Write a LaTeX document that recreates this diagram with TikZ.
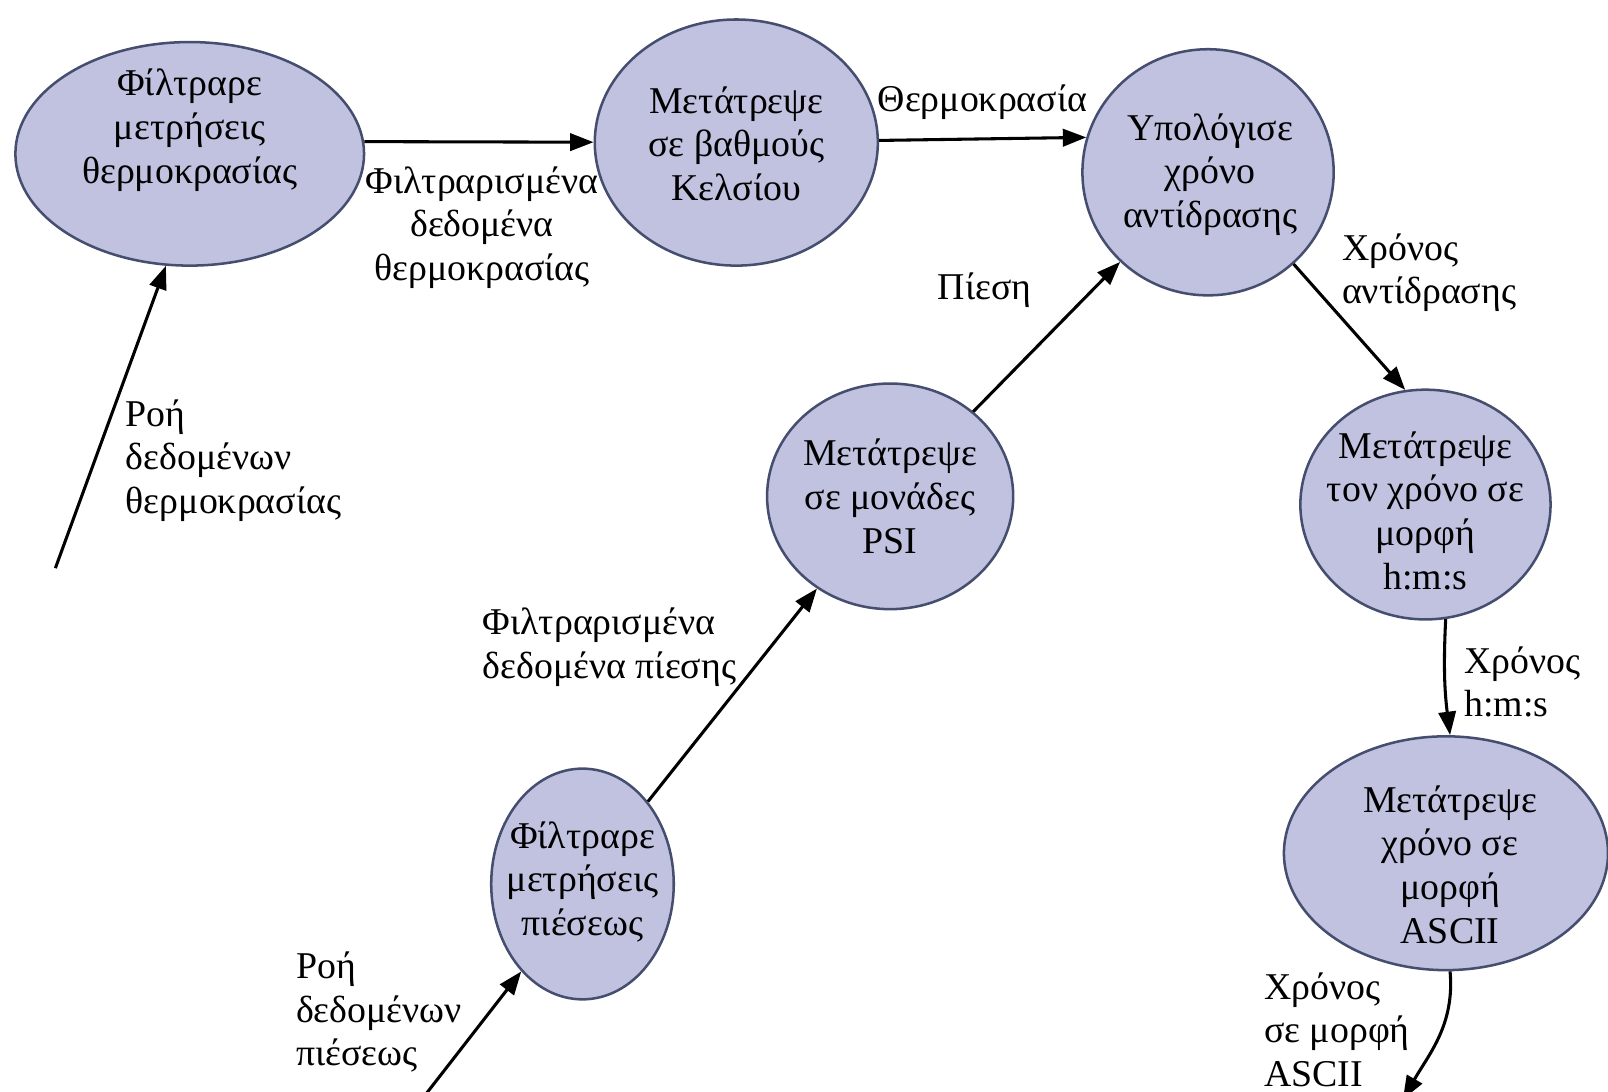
\documentclass[tikz,border=0pt]{standalone}
\usepackage{fontspec}
\setmainfont{Liberation Serif}
\usepackage{tikz}
\usetikzlibrary{positioning, arrows.meta, shapes.geometric}

\definecolor{procfill}{RGB}{192,194,224}
\definecolor{procline}{RGB}{70,78,112}

\begin{document}
\begin{tikzpicture}[x=0.1mm, y=-0.1mm,
    proc/.style={ellipse, draw=procline, line width=0.7pt, fill=procfill, inner sep=0pt},
    ptext/.style={align=center, inner sep=0pt, font={\fontsize{10.5pt}{12.1pt}\selectfont}},
    lbl/.style={align=left, anchor=west, inner sep=0pt, font={\fontsize{10.5pt}{12.1pt}\selectfont}},
    flow/.style={-{Triangle[length=6.5pt, width=4.8pt]}, line width=0.85pt}
]
\useasboundingbox (0,0) rectangle (1568,1064);
% Processes
\node[proc, minimum width=34mm, minimum height=21.8mm] (filtT) at (185,150) {};
\node[proc, minimum width=27.6mm, minimum height=24mm] (kels) at (718,139) {};
\node[proc, minimum width=24.5mm, minimum height=24mm] (calc) at (1178,168) {};
\node[proc, minimum width=24mm, minimum height=22mm] (psi) at (868,484) {};
\node[proc, minimum width=24.4mm, minimum height=22.4mm] (hms) at (1390,492) {};
\node[proc, minimum width=31.6mm, minimum height=22.8mm] (ascii) at (1410,832) {};
\node[proc, minimum width=17.8mm, minimum height=22.5mm] (filtP) at (568,862) {};
% Process texts
\node[ptext] (filtT-t) at (185,127) {Φίλτραρε\\μετρήσεις\\θερμοκρασίας};
\node[ptext] (kels-t) at (718,140) {Μετάτρεψε\\σε βαθμούς\\Κελσίου};
\node[ptext] (calc-t) at (1180,170) {Υπολόγισε\\χρόνο\\αντίδρασης};
\node[ptext] (psi-t) at (868,484) {Μετάτρεψε\\σε μονάδες\\PSI};
\node[ptext] (hms-t) at (1390,498) {Μετάτρεψε\\τον χρόνο σε\\μορφή\\h:m:s};
\node[ptext] (ascii-t) at (1414,843) {Μετάτρεψε\\χρόνο σε\\μορφή\\ASCII};
\node[ptext] (filtP-t) at (568,860) {Φίλτραρε\\μετρήσεις\\πιέσεως};
% Free ends
\coordinate (tin) at (54,554);
\coordinate (pin) at (416,1066);
\coordinate (aout) at (1368,1072);
% Data flows
\draw[flow] (tin) -- (filtT.-102);
\draw[flow] (filtT.4) -- (kels);
\draw[flow] (kels) -- (calc.164);
\draw[flow] (pin) -- (filtP.-125);
\draw[flow] (filtP) -- (psi);
\draw[flow] (psi) -- (calc);
\draw[flow] (calc.-47) -- (hms.100);
\draw[flow] (hms.-80) to[bend right=5] (ascii.88);
\draw[flow] (ascii.-88) to[out=-85, in=60] (aout);
% Flow labels
\node[ptext] (l-filtT) at (470,222) {Φιλτραρισμένα\\δεδομένα\\θερμοκρασίας};
\node[ptext] (l-temp) at (958,100) {Θερμοκρασία};
\node[ptext] (l-pres) at (960,283) {Πίεση};
\node[lbl] (l-react) at (1308,266) {Χρόνος\\αντίδρασης};
\node[lbl] (l-tin) at (122,449) {Ροή\\δεδομένων\\θερμοκρασίας};
\node[lbl] (l-filtP) at (470,631) {Φιλτραρισμένα\\δεδομένα πίεσης};
\node[lbl] (l-hms) at (1427,665) {Χρόνος\\h:m:s};
\node[lbl] (l-pin) at (288,987) {Ροή\\δεδομένων\\πιέσεως};
\node[lbl] (l-ascii) at (1232,1004) {Χρόνος\\σε μορφή\\ASCII};
\end{tikzpicture}
\end{document}
